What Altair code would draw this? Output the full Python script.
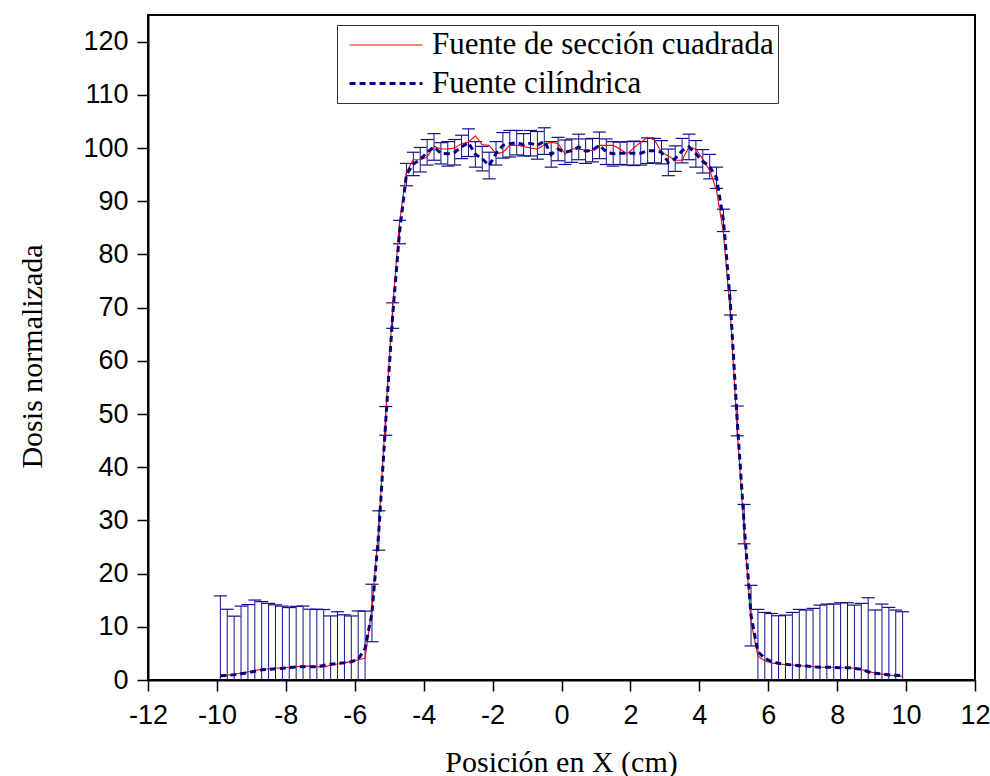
import altair as alt
import pandas as pd

# ---------------- data ----------------
x_cm = [-9.9, -9.7, -9.5, -9.3, -9.1, -8.9, -8.7, -8.5, -8.3, -8.1,
        -7.9, -7.7, -7.5, -7.3, -7.1, -6.9, -6.7, -6.5, -6.3, -6.1,
        -5.9, -5.7, -5.5, -5.3, -5.1, -4.9, -4.7, -4.5, -4.3, -4.1,
        -3.9, -3.7, -3.5, -3.3, -3.1, -2.9, -2.7, -2.5, -2.3, -2.1,
        -1.9, -1.7, -1.5, -1.3, -1.1, -0.9, -0.7, -0.5, -0.3, -0.1,
        0.1, 0.3, 0.5, 0.7, 0.9, 1.1, 1.3, 1.5, 1.7, 1.9,
        2.1, 2.3, 2.5, 2.7, 2.9, 3.1, 3.3, 3.5, 3.7, 3.9,
        4.1, 4.3, 4.5, 4.7, 4.9, 5.1, 5.3, 5.5, 5.7, 5.9,
        6.1, 6.3, 6.5, 6.7, 6.9, 7.1, 7.3, 7.5, 7.7, 7.9,
        8.1, 8.3, 8.5, 8.7, 8.9, 9.1, 9.3, 9.5, 9.7, 9.9]

dosis_cilindrica = [
    0.81, 0.85, 1.0, 1.19, 1.38, 1.63, 1.94, 2.0, 2.13, 2.19,
    2.32, 2.44, 2.5, 2.5, 2.5, 2.75, 2.94, 3.13, 3.25, 3.44,
    3.88, 5.95,
    12.6, 28.1, 48.7, 68.5, 84.2, 95.0,
    97.0, 97.8, 99.2, 100.2, 99.0, 98.9, 99.2, 100.2, 101.0, 98.8,
    98.0, 96.7, 99.0, 100.5, 100.8, 101.0, 100.6, 100.9, 100.5, 101.3,
    98.8, 99.8, 99.2, 99.5, 100.2, 99.4, 99.6, 100.5, 99.3, 98.9,
    99.0, 99.0, 99.0, 99.0, 99.5, 99.5, 99.2, 97.3, 98.0, 99.5,
    100.2, 98.9, 97.5, 96.5,
    94.4, 86.4, 70.9, 48.7, 29.3, 12.1,
    5.3, 4.07, 3.44, 3.13, 2.94, 2.82, 2.69, 2.63, 2.5, 2.38,
    2.38, 2.38, 2.32, 2.32, 2.19, 2.0, 1.56, 1.25, 1.13, 0.94,
    0.88, 0.81]

dosis_cuadrada = [
    0.7, 0.9, 1.1, 1.3, 1.5, 1.8, 2.0, 2.1, 2.2, 2.3,
    2.4, 2.5, 2.6, 2.6, 2.5, 2.4, 2.8, 3.0, 3.2, 3.5,
    3.8, 4.1,
    13.5, 29.0, 50.0, 70.0, 86.0, 95.5,
    97.8, 97.8, 98.3, 100.3, 99.8, 99.8, 100.0, 100.8, 101.1, 102.3,
    100.6, 100.5, 98.9, 99.2, 100.5, 100.5, 100.3, 100.0, 99.8, 100.6,
    101.1, 100.8, 98.9, 99.8, 99.8, 99.6, 99.5, 100.5, 100.5, 100.5,
    99.8, 98.9, 100.0, 101.1, 102.0, 101.5, 99.2, 98.5, 97.7, 97.7,
    100.2, 99.8, 97.9, 95.8,
    92.0, 84.0, 69.0, 47.0, 28.0, 11.0,
    4.5, 3.6, 3.2, 3.0, 2.9, 2.8, 2.7, 2.6, 2.5, 2.4,
    2.4, 2.4, 2.3, 2.3, 2.2, 2.0, 1.6, 1.3, 1.1, 0.9,
    0.8, 0.7]

error_cilindrica = [
    15.0, 12.45, 11.0, 12.7, 12.8, 13.4, 12.8, 12.4, 12.0, 11.7,
    11.3, 11.4, 11.4, 10.8, 10.8, 10.5, 9.1, 9.7, 9.0, 8.6,
    9.1, 7.0,
    5.4, 3.7, 2.7, 2.4, 2.2, 2.1,
    2.2, 2.3, 2.4, 2.5, 2.0, 2.3, 2.4, 2.2, 2.6, 2.4,
    2.3, 2.5, 2.2, 2.4, 2.5, 2.3, 2.1, 2.4, 2.6, 2.5,
    2.4, 2.2, 2.3, 2.2, 2.4, 2.3, 2.2, 2.5, 2.4, 2.3,
    2.1, 2.2, 2.3, 2.2, 2.4, 2.3, 2.2, 2.5, 2.4, 2.3,
    2.4, 2.5, 2.2, 2.3,
    2.0, 2.1, 2.3, 2.8, 3.7, 5.7,
    7.97, 8.63, 9.06, 8.95, 9.26, 9.88, 10.58, 10.52, 10.96, 11.7,
    11.89, 11.89, 12.2, 12.2, 11.89, 12.4, 13.9, 11.9, 13.14, 12.71,
    12.27, 12.02]

series_names = ["Fuente de sección cuadrada", "Fuente cilíndrica"]
series_colors = ["#ff0000", "#000080"]
series_widths = [1.1, 3]
series_dashes = [[1, 0], [6, 4]]

# ---------------- tables ----------------
df_err = pd.DataFrame({
    "x": x_cm,
    "lo": [v - e for v, e in zip(dosis_cilindrica, error_cilindrica)],
    "hi": [v + e for v, e in zip(dosis_cilindrica, error_cilindrica)],
})
df_sq = pd.DataFrame({"x": x_cm, "y": dosis_cuadrada, "serie": series_names[0]})
df_cy = pd.DataFrame({"x": x_cm, "y": dosis_cilindrica, "serie": series_names[1]})

SERIF = "Liberation Serif"
SANS = "Liberation Sans"
ERR_COLOR = "#10108a"

x_scale = alt.Scale(domain=[-12, 12], nice=False)
y_scale = alt.Scale(domain=[0, 125], nice=False)

x_axis = alt.Axis(
    values=list(range(-12, 13)),
    labelExpr="datum.value % 2 == 0 ? toString(datum.value) : ''",
    tickSize=alt.ExprRef(expr="datum.value % 2 == 0 ? 11 : 6"),
    title="Posición en X (cm)",
    titleFont=SERIF, titleFontSize=30, titleFontWeight="normal",
    titleX=413, titleY=82, titleBaseline="middle",
    labelFont=SANS, labelFontSize=27, labelPadding=11,
    labelColor="black", tickColor="black", tickWidth=1.5,
    domainColor="black", domainWidth=2, grid=False, labelFlush=False,
)
y_axis = alt.Axis(
    values=list(range(0, 126, 5)),
    labelExpr="datum.value % 10 == 0 ? toString(datum.value) : ''",
    tickSize=alt.ExprRef(expr="datum.value % 10 == 0 ? 11 : 6"),
    title="Dosis normalizada",
    titleFont=SERIF, titleFontSize=30, titleFontWeight="normal",
    titleX=-116, titleY=341, titleBaseline="middle", titleAngle=-90,
    labelFont=SANS, labelFontSize=27, labelPadding=9,
    labelColor="black", tickColor="black", tickWidth=1.5,
    domainColor="black", domainWidth=2, grid=False, labelFlush=False,
)

color = alt.Color("serie:N", scale=alt.Scale(domain=series_names, range=series_colors),
                  legend=alt.Legend(title=None))
sw = alt.StrokeWidth("serie:N", scale=alt.Scale(domain=series_names, range=series_widths),
                     legend=alt.Legend(title=None))
dash = alt.StrokeDash("serie:N", scale=alt.Scale(domain=series_names, range=series_dashes),
                      legend=alt.Legend(title=None))

err_bars = alt.Chart(df_err).mark_rule(color=ERR_COLOR, strokeWidth=1, clip=True).encode(
    x=alt.X("x:Q", scale=x_scale, axis=x_axis),
    y=alt.Y("lo:Q", scale=y_scale, axis=y_axis),
    y2="hi:Q",
)
cap_hi = alt.Chart(df_err).mark_tick(color=ERR_COLOR, orient="horizontal", size=13,
                                     thickness=1.2, clip=True, opacity=1).encode(
    x=alt.X("x:Q", scale=x_scale), y=alt.Y("hi:Q", scale=y_scale))
cap_lo = alt.Chart(df_err).mark_tick(color=ERR_COLOR, orient="horizontal", size=13,
                                     thickness=1.2, clip=True, opacity=1).encode(
    x=alt.X("x:Q", scale=x_scale), y=alt.Y("lo:Q", scale=y_scale))

line_sq = alt.Chart(df_sq).mark_line(clip=True).encode(
    x=alt.X("x:Q", scale=x_scale), y=alt.Y("y:Q", scale=y_scale),
    color=color, strokeWidth=sw, strokeDash=dash)
line_cy = alt.Chart(df_cy).mark_line(clip=True).encode(
    x=alt.X("x:Q", scale=x_scale), y=alt.Y("y:Q", scale=y_scale),
    color=color, strokeWidth=sw, strokeDash=dash)

chart = alt.layer(err_bars, cap_hi, cap_lo, line_sq, line_cy).properties(
    width=827, height=665,
    autosize=alt.AutoSizeParams(type="none"),
    padding={"left": 148, "top": 15, "right": 15, "bottom": 96},
    background="white",
).configure_view(
    stroke="black", strokeWidth=2,
).configure_legend(
    orient="none", legendX=189, legendY=10,
    strokeColor="#333333", strokeWidth=1, fillColor="white",
    padding=4, rowPadding=7,
    labelFont=SERIF, labelFontSize=31, labelColor="black", labelLimit=500,
    labelOffset=58,
    symbolType="M-0.53,0H4.33", symbolSize=900, symbolStrokeWidth=3,
)

chart.save("out.html", embed_options={"renderer": "svg", "actions": False})
